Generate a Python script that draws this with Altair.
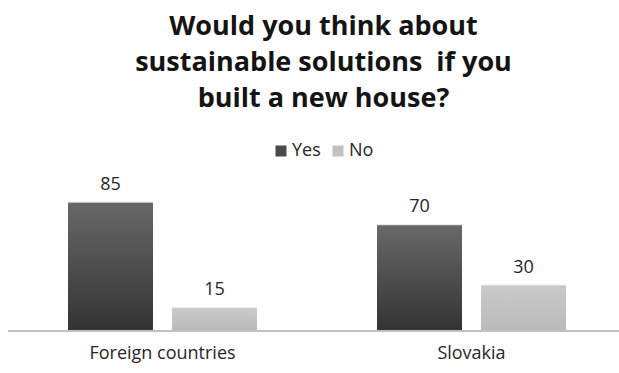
import altair as alt
import pandas as pd

categories = ["Foreign countries", "Slovakia"]
series = ["Yes", "No"]
yes_values = [85, 70]
no_values = [15, 30]
title_lines = ["Would you think about", "sustainable solutions\u00a0 if you", "built a new house?"]

rows = []
for c, y, n in zip(categories, yes_values, no_values):
    rows.append({"cat": c, "answer": "Yes", "value": y})
    rows.append({"cat": c, "answer": "No", "value": n})
df = pd.DataFrame(rows)

W, H = 611, 151
x_enc = alt.X("cat:N", sort=categories, title=None,
              scale=alt.Scale(paddingInner=0, paddingOuter=0, range=[0, 618]),
              axis=alt.Axis(domain=False, ticks=False, labelAngle=0, labelFont="Open Sans",
                            labelFontSize=18, labelColor="#262626", labelPadding=13))
xoff = alt.XOffset("answer:N", sort=series,
                   scale=alt.Scale(paddingInner=0.1827, paddingOuter=0.577))
y_enc = alt.Y("value:Q", scale=alt.Scale(domain=[0, 100]), axis=None)

base = alt.Chart(df).encode(x=x_enc, xOffset=xoff, y=y_enc)

shadow = base.mark_bar(color="#000000", opacity=0.12, xOffset=3, yOffset=-1)

yes_grad = alt.LinearGradient(gradient="linear", x1=0, y1=0, x2=0, y2=1,
                              stops=[alt.GradientStop(color="#686868", offset=0),
                                     alt.GradientStop(color="#333333", offset=1)])
no_grad = alt.LinearGradient(gradient="linear", x1=0, y1=0, x2=0, y2=1,
                             stops=[alt.GradientStop(color="#c9c9c9", offset=0),
                                    alt.GradientStop(color="#bababa", offset=1)])

bars_yes = base.mark_bar(color=yes_grad).transform_filter(alt.datum.answer == "Yes")
bars_no = base.mark_bar(color=no_grad).transform_filter(alt.datum.answer == "No")

legend_pts = alt.Chart(df).mark_square(size=0, opacity=0).encode(
    color=alt.Color("answer:N", sort=series,
                    scale=alt.Scale(domain=series, range=["#4a4a4a", "#c2c2c2"]),
                    legend=alt.Legend(title=None, orient="none", legendX=264, legendY=-38,
                                      direction="horizontal", symbolType="square",
                                      symbolSize=121, symbolOpacity=1, symbolStrokeWidth=0,
                                      labelFont="Open Sans", labelFontSize=18,
                                      labelColor="#262626", columnPadding=8, labelOffset=2))
)

labels = base.mark_text(dy=-18, font="Open Sans", fontSize=18, color="#262626").encode(
    text="value:Q")

axis_line = alt.Chart(df).mark_rule(color="#c0c0c0", strokeWidth=1.5).encode(
    x=alt.value(0), x2=alt.value(W), y=alt.value(H))

chart = alt.layer(shadow, bars_yes, bars_no, labels, axis_line, legend_pts).properties(
    width=W, height=H,
    padding={"left": 8, "top": 180, "right": 0, "bottom": 42},
    autosize=alt.AutoSizeParams(type="none"),
    title=alt.TitleParams(title_lines, font="Open Sans", fontSize=27, fontWeight="bold",
                          color="#141414", anchor="middle", lineHeight=36, dx=10,
                          offset=29),
).configure_view(stroke=None)

chart.save("out.html", embed_options={"renderer": "svg", "actions": False})
